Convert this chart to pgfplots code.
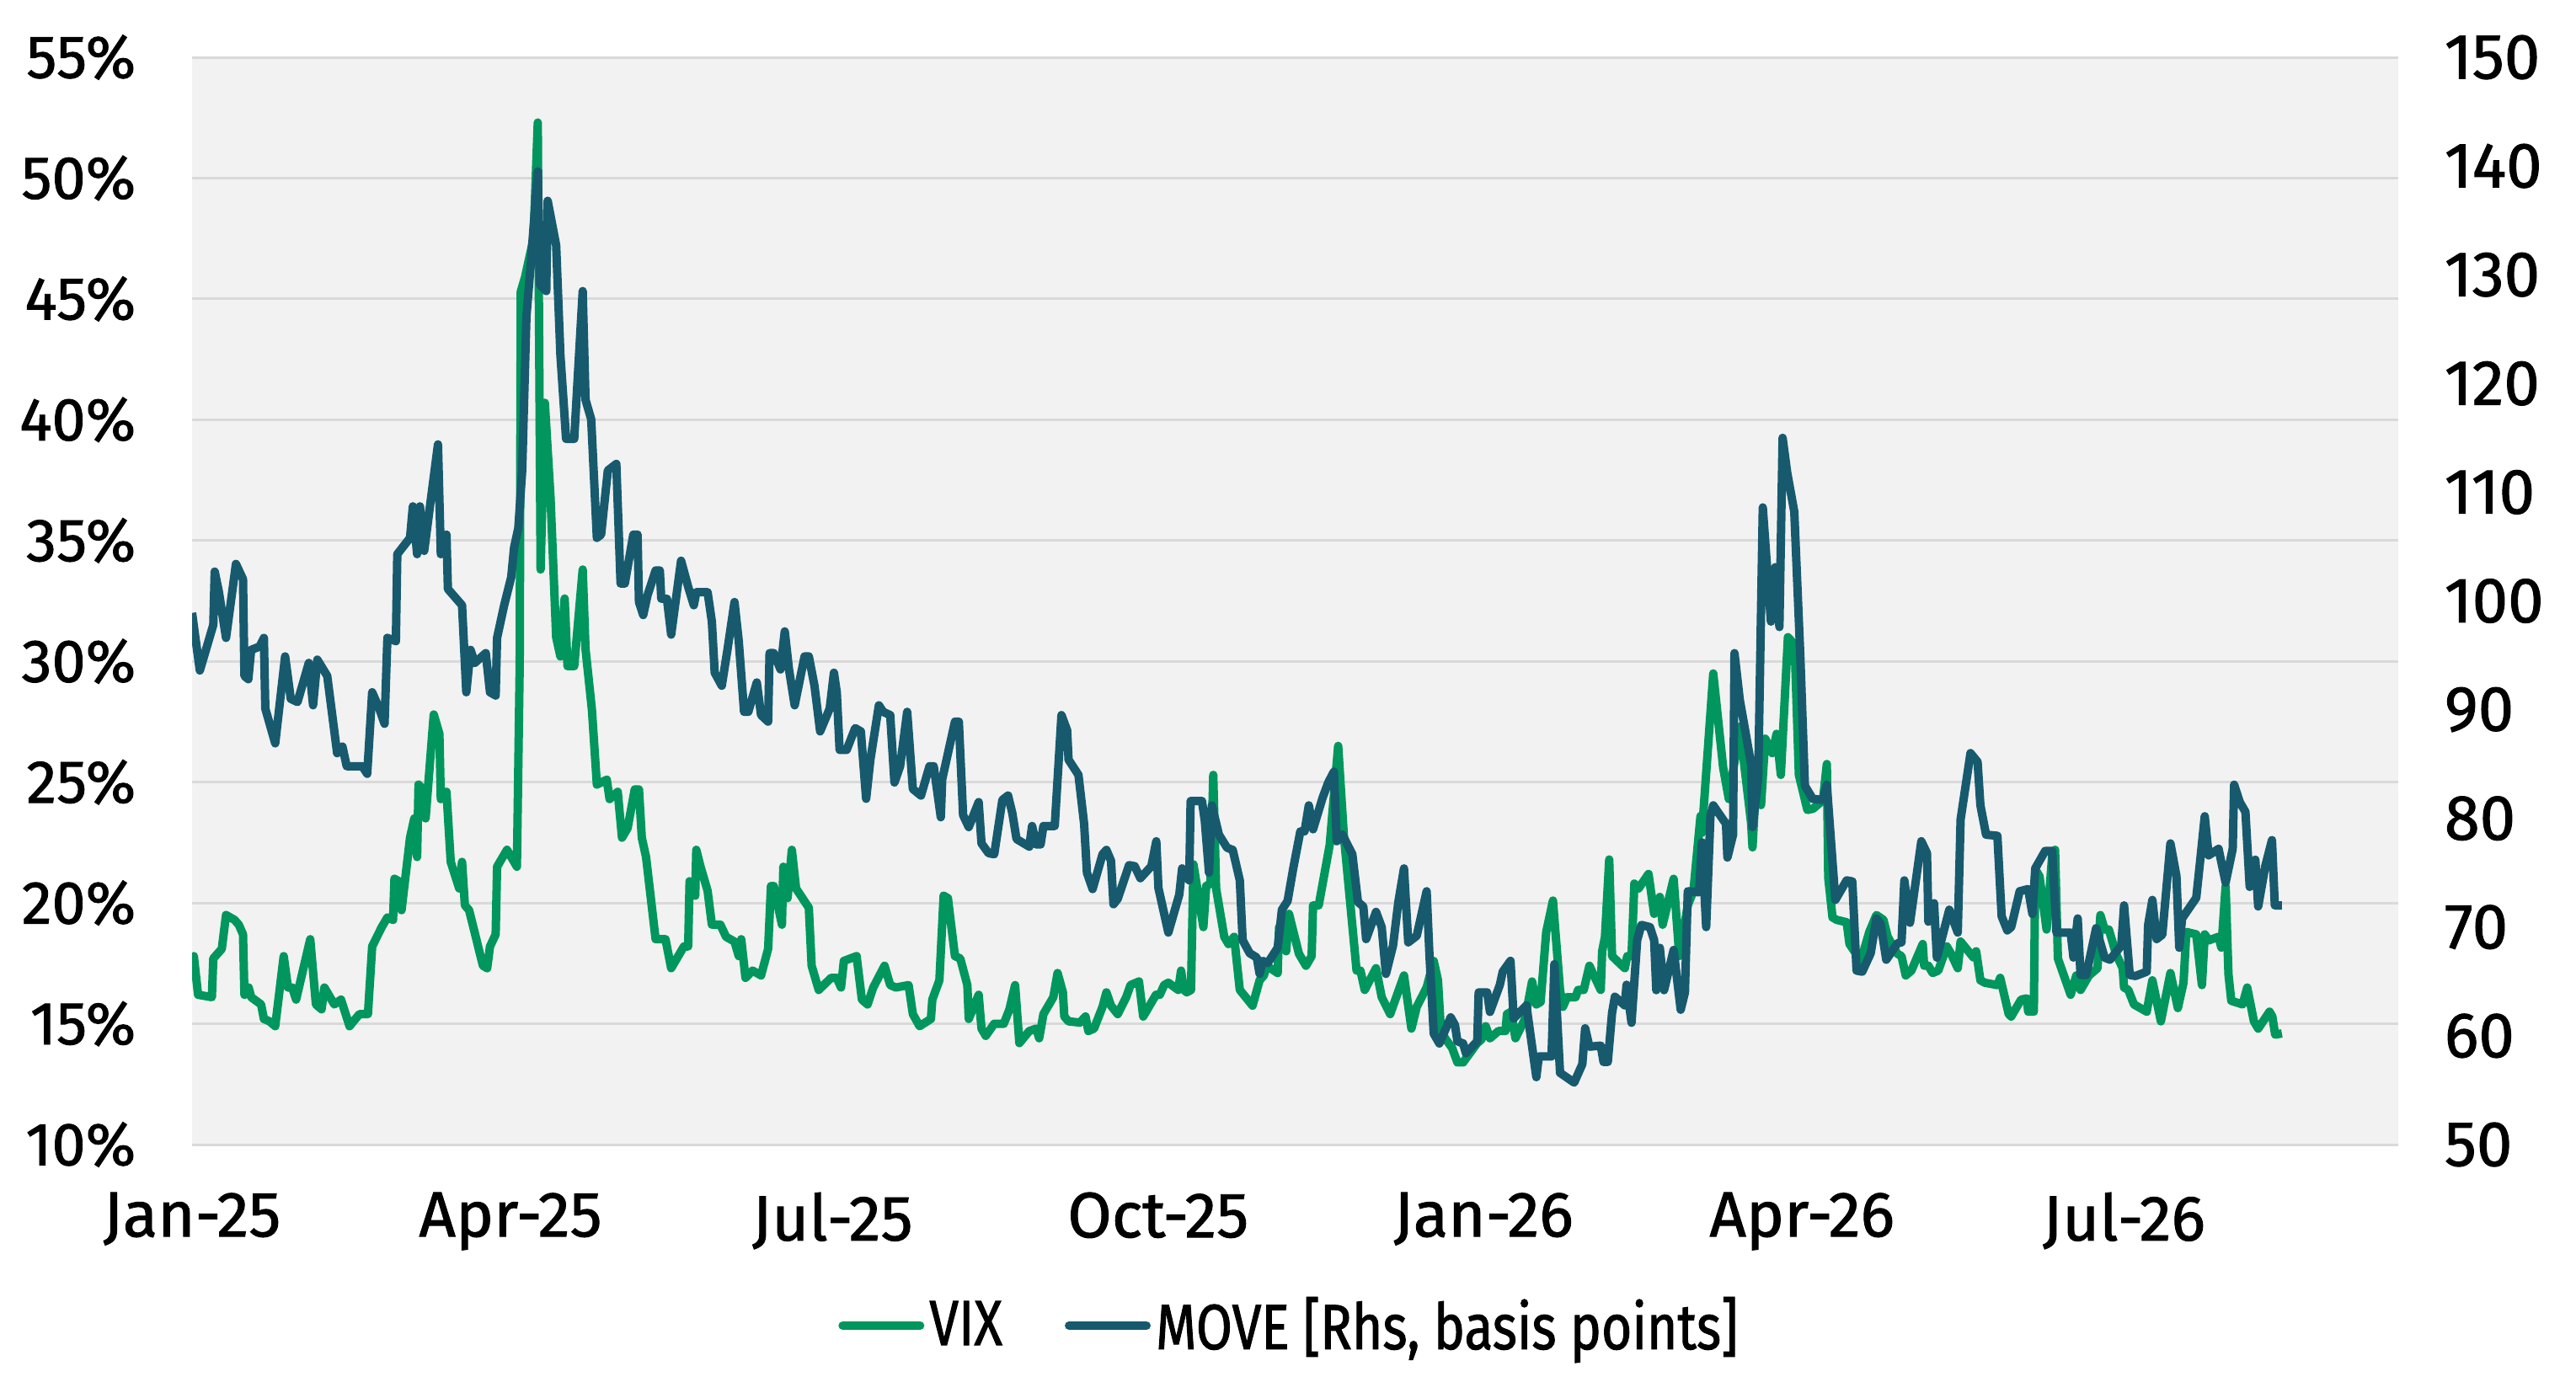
\documentclass[border=0pt]{standalone}
\usepackage{fontspec}
\setmainfont{Fira Sans}[FakeBold=1.2]
\newfontfamily\legfont{Fira Sans}[FakeStretch=0.82, FakeBold=1.2]
\newfontfamily\tickfont{Fira Sans}[FakeBold=1.2]
\usepackage{pgfplots}
\usepackage{pgfplotstable}
\pgfplotsset{compat=1.18}
\definecolor{vixgreen}{HTML}{00965E}
\definecolor{moveblue}{HTML}{175A6E}
\definecolor{plotbg}{HTML}{F2F2F2}
\definecolor{gridc}{HTML}{D9D9D9}

\pgfplotstableread[row sep=\\]{
x y\\
0 17.4\\ 0.5 17.8\\ 1.7 16.2\\ 5.6 16.1\\ 6 17.7\\ 8.4 18.1\\ 9.6 19.5\\ 12 19.3\\ 13.2 19.1\\ 14.4 18.7\\
14.8 16.2\\ 16 16.5\\ 16.7 16.1\\ 19.5 15.8\\ 20.3 15.2\\ 21.9 15.1\\ 23.5 14.9\\ 25.9 17.8\\ 27.1 16.5\\ 28.3 16.5\\
29.4 16.0\\ 33.4 18.5\\ 35 15.8\\ 36.6 15.6\\ 37.4 16.5\\ 40.2 15.8\\ 42.1 16.0\\ 44.5 14.9\\ 47.3 15.4\\ 49.7 15.4\\
50.9 18.2\\ 53.6 19.0\\ 55.2 19.4\\ 56.8 19.3\\ 57.2 21.0\\ 58.4 20.9\\ 59.2 19.7\\ 61.6 22.7\\ 62.8 23.5\\ 63.6 21.9\\
64 24.9\\ 65.2 24.7\\ 66 23.5\\ 68.3 27.8\\ 69.9 27.0\\ 70.3 24.3\\ 71.9 24.6\\ 73.1 21.7\\ 75.5 20.6\\ 76.3 21.7\\
77.1 19.9\\ 78.3 19.7\\ 82.2 17.4\\ 83.4 17.3\\ 84.2 18.2\\ 85.8 18.7\\ 86.2 21.5\\ 89 22.2\\ 90.2 21.9\\ 91.8 21.5\\
92.6 29.9\\ 92.9 45.3\\ 94.1 45.9\\ 96.5 47.5\\ 97.7 52.3\\ 98.5 33.8\\ 99.7 40.7\\ 101.3 36.8\\ 102.9 31.0\\ 104.1 30.2\\
105.3 32.6\\ 106.1 29.8\\ 108 29.8\\ 110.4 33.8\\ 111.2 30.5\\ 113 28.0\\ 114.4 24.9\\ 117.2 25.1\\ 118 24.3\\ 120.3 24.6\\
121.5 22.7\\ 123.1 23.1\\ 125.1 24.7\\ 126.3 24.7\\ 127.1 22.7\\ 128.3 21.9\\ 131 18.5\\ 133.8 18.5\\ 135.4 17.3\\ 139 18.2\\
140.2 18.2\\ 140.6 20.9\\ 142.2 20.3\\ 142.5 22.2\\ 143.7 21.5\\ 145.7 20.5\\ 146.9 19.1\\ 149.3 19.1\\ 150.9 18.6\\ 153.3 18.4\\
154.5 17.8\\ 155.2 18.5\\ 156.4 16.9\\ 158.4 17.2\\ 160.8 17.0\\ 162.8 18.1\\ 163.6 20.7\\ 164.4 20.7\\ 166.7 19.1\\ 167.1 21.5\\
168.3 20.2\\ 169.5 22.2\\ 170.7 20.6\\ 174.3 19.8\\ 175.1 17.4\\ 177.1 16.4\\ 180.6 16.9\\ 182.2 16.9\\ 183.4 16.5\\ 184.2 17.6\\
187.8 17.8\\ 189.3 16.0\\ 190.9 15.8\\ 192.5 16.5\\ 195.7 17.4\\ 197.3 16.6\\ 198.9 16.5\\ 202.5 16.6\\ 203.7 15.4\\ 205.6 14.9\\
208.8 15.2\\ 209.2 16.0\\ 211.2 16.8\\ 212.4 20.3\\ 213.6 20.2\\ 215.6 17.8\\ 217.1 17.7\\ 219.1 16.6\\ 219.5 15.2\\ 222.3 16.2\\
223.1 14.8\\ 224.3 14.5\\ 226.7 15.0\\ 229.4 15.0\\ 231 15.6\\ 232.6 16.6\\ 233.8 14.2\\ 236.6 14.7\\ 238.6 14.8\\ 239.4 14.4\\
240.6 15.4\\ 243.4 16.1\\ 244.6 17.1\\ 246.1 16.3\\ 246.5 15.3\\ 247.7 15.1\\ 250.9 15.05\\ 252.5 15.3\\ 253.3 14.7\\ 254.9 14.8\\
257.3 15.7\\ 258.4 16.3\\ 259.7 15.75\\ 261.6 15.4\\ 264 16.1\\ 265.2 16.6\\ 266.8 16.7\\ 267.6 16.75\\ 268.8 15.3\\ 272.4 16.2\\
273.5 16.2\\ 274.7 16.6\\ 275.9 16.7\\ 278.7 16.4\\ 279.5 17.2\\ 280.3 16.4\\ 281.1 16.3\\ 282.3 16.4\\ 283 21.6\\ 285.8 19.0\\
286.6 20.7\\ 287.8 20.8\\ 288.6 25.3\\ 289.4 20.6\\ 291.7 18.6\\ 292.9 18.3\\ 294.5 18.6\\ 296.1 16.4\\ 299.7 15.75\\ 301.7 16.8\\
302.9 17.0\\ 303.7 17.4\\ 306.8 17.1\\ 307.2 19.0\\ 309.2 18.0\\ 310 19.55\\ 312.8 17.9\\ 314.8 17.4\\ 316.4 17.8\\ 316.8 19.9\\
318.4 19.9\\ 321.5 22.4\\ 323.9 26.5\\ 325.5 22.8\\ 329.1 17.2\\ 330.2 17.2\\ 331.4 16.4\\ 334.6 17.3\\ 336.2 16.1\\ 338.6 15.4\\
342.5 17.0\\ 344.6 14.8\\ 346.1 15.7\\ 348.9 16.5\\ 350.9 17.6\\ 352.1 16.8\\ 352.9 14.8\\ 354.1 14.4\\ 356.1 14.0\\ 357.6 13.4\\
359.2 13.4\\ 363.2 14.2\\ 364.4 14.35\\ 365.6 14.9\\ 366.8 14.4\\ 369.2 14.7\\ 371.2 14.7\\ 371.6 15.4\\ 372.8 15.5\\ 374 14.4\\
376.7 15.2\\ 378.7 16.75\\ 379.9 15.8\\ 381.1 15.9\\ 382.7 18.8\\ 384.6 20.1\\ 386.6 16.4\\ 387.4 15.7\\ 388.6 16.1\\ 391 16.1\\
391.7 16.4\\ 393.3 16.4\\ 394.9 17.4\\ 398.1 16.4\\ 398.5 18.0\\ 399.3 18.6\\ 400.5 21.8\\ 401.3 17.8\\ 404.9 17.3\\ 405.6 17.8\\
406.8 17.8\\ 407.6 20.8\\ 408.8 20.6\\ 411.6 21.2\\ 413.2 19.55\\ 414.8 20.25\\ 415.6 19.1\\ 418.7 21.0\\ 420.3 17.8\\ 422.7 19.9\\
424.3 20.5\\ 426.3 23.6\\ 426.7 22.9\\ 429.9 29.5\\ 432.7 25.6\\ 434.3 24.3\\ 437.4 27.3\\ 440.6 23.3\\ 441.0 22.3\\ 442.2 25.6\\
443.4 24.05\\ 444.6 26.8\\ 446.6 26.2\\ 447.8 27.0\\ 449.0 25.3\\ 451.0 31.0\\ 452.9 30.7\\ 454.1 25.3\\ 456.5 23.85\\ 458.1 23.9\\
460.9 24.25\\ 462 25.75\\ 462.4 21.05\\ 463.6 19.4\\ 464.8 19.3\\ 467.6 19.2\\ 468.4 18.3\\ 471.6 17.6\\ 474 18.8\\ 476 19.5\\
478 19.3\\ 479.2 18.6\\ 481.9 17.9\\ 483.1 17.8\\ 484.3 17.0\\ 485.9 17.2\\ 489.1 18.3\\ 489.5 17.4\\ 490.7 17.4\\ 491.9 17.1\\
493.5 17.2\\ 495.9 18.2\\ 497.1 17.9\\ 499 17.3\\ 499.8 18.4\\ 503.4 17.75\\ 504.2 18.0\\ 505.4 16.8\\ 506.6 16.7\\ 510.2 16.6\\
511 16.9\\ 513.4 15.4\\ 514.1 15.3\\ 516.9 16.0\\ 518.5 16.05\\ 518.9 15.5\\ 520.5 15.5\\ 520.9 21.4\\ 522.1 21.1\\ 524.1 18.9\\
525.7 22.0\\ 526.5 22.2\\ 527.3 17.7\\ 530.9 16.2\\ 532.5 17.0\\ 533.7 16.4\\ 536.1 17.0\\ 538.5 17.3\\ 539.3 19.5\\ 540.5 18.9\\
541.7 18.9\\ 543.7 17.9\\ 545.6 17.3\\ 546 16.5\\ 547.2 16.4\\ 548.8 15.8\\ 552.4 15.5\\ 554 16.8\\ 556.4 15.1\\ 559.1 17.1\\
561.2 15.65\\ 562.8 16.7\\ 563.6 18.8\\ 566.4 18.7\\ 568 16.6\\ 568.8 18.7\\ 569.9 18.45\\ 572.7 18.6\\ 573.5 18.15\\ 574.7 20.7\\
575.5 17.05\\ 576.3 15.95\\ 579.5 15.8\\ 580.8 16.5\\ 582.7 15.1\\ 583.9 14.8\\ 587.1 15.5\\ 587.9 15.3\\ 588.7 14.55\\ 590.6 14.6\\
}\vixdata

\pgfplotstableread[row sep=\\]{
x y\\
0 98.9\\ 2.2 93.6\\ 6.0 97.8\\ 6.4 102.7\\ 7.6 100.8\\ 9.6 96.6\\ 12.4 103.4\\ 14.4 102.0\\ 14.8 93.1\\ 15.9 92.8\\
16.7 95.5\\ 19.1 95.8\\ 20.3 96.6\\ 20.7 90.1\\ 23.5 86.9\\ 26.3 94.9\\ 27.9 91.0\\ 29.8 90.7\\ 33.0 94.3\\ 34.2 90.4\\
35.4 94.6\\ 38.2 93.1\\ 41.0 86.0\\ 42.5 86.6\\ 43.7 84.8\\ 48.1 84.8\\ 49.5 84.1\\ 50.9 91.6\\ 52.9 90.1\\ 54.4 88.7\\
55.2 96.6\\ 57.6 96.3\\ 58.0 104.3\\ 61.6 105.8\\ 62.4 108.7\\ 63.6 104.3\\ 64.4 108.7\\ 65.6 104.6\\ 69.5 114.4\\ 70.3 104.3\\
71.9 106.1\\ 72.3 101.1\\ 76.3 99.6\\ 77.5 91.6\\ 78.7 95.5\\ 79.9 94.3\\ 83.0 95.2\\ 84.2 91.6\\ 85.8 91.3\\ 86.2 96.6\\
88.2 99.6\\ 90.2 102.2\\ 91.0 104.9\\ 92.2 106.7\\ 93.3 112.0\\ 94.5 126.2\\ 95.7 130.9\\ 97.7 139.5\\ 98.3 129.1\\ 100.1 128.5\\
100.5 136.8\\ 102.9 132.7\\ 104.1 122.6\\ 105.7 114.9\\ 108.0 114.9\\ 110.4 128.5\\ 111.2 118.5\\ 112.8 116.7\\ 114.4 105.8\\ 115.6 106.1\\
117.5 112.0\\ 119.9 112.6\\ 121.1 101.6\\ 122.3 101.6\\ 124.7 106.1\\ 125.9 106.1\\ 126.3 99.9\\ 127.5 98.7\\ 128.7 100.5\\ 131.0 102.8\\
132.2 102.8\\ 132.6 100.2\\ 134.2 100.2\\ 135.4 96.9\\ 138.2 103.7\\ 140.2 101.3\\ 141.8 99.6\\ 142.5 100.8\\ 145.7 100.8\\ 146.9 98.1\\
147.7 93.4\\ 149.7 92.2\\ 151.3 95.5\\ 153.3 99.9\\ 154.5 96.3\\ 156.0 89.8\\ 157.2 89.8\\ 159.6 92.5\\ 160.8 89.5\\ 162.8 88.9\\
163.2 95.2\\ 164.4 95.2\\ 166.3 93.7\\ 167.5 97.2\\ 168.7 93.7\\ 170.3 90.4\\ 173.1 94.9\\ 174.3 94.9\\ 175.9 92.2\\ 177.5 88.0\\
180.2 90.1\\ 181.4 93.4\\ 182.2 91.6\\ 183.0 86.3\\ 185.0 86.3\\ 187.4 88.3\\ 189.0 88.0\\ 190.5 81.8\\ 191.7 85.4\\ 194.1 90.4\\
195.3 89.8\\ 197.3 89.5\\ 198.5 83.3\\ 200.1 84.8\\ 202.1 89.8\\ 203.7 82.7\\ 206.0 82.1\\ 208.4 84.8\\ 209.6 84.8\\ 211.6 80.1\\
212.0 83.6\\ 215.6 88.9\\ 216.7 88.9\\ 217.9 80.3\\ 219.5 79.2\\ 222.3 81.5\\ 223.1 77.7\\ 225.1 76.8\\ 226.7 76.7\\ 229.0 81.7\\
230.6 82.1\\ 231.8 80.5\\ 233.0 78.1\\ 236.6 77.4\\ 237.4 79.3\\ 238.6 77.6\\ 239.8 77.6\\ 240.6 79.3\\ 243.8 79.3\\ 245.7 89.5\\
247.3 88.1\\ 247.7 85.4\\ 250.5 84.0\\ 252.1 79.5\\ 252.9 75.0\\ 254.5 73.5\\ 257.3 76.7\\ 258.4 77.1\\ 259.7 76.1\\ 260.4 72.1\\
261.6 72.6\\ 264.8 75.7\\ 266.4 75.6\\ 268.0 74.5\\ 271.1 75.6\\ 272.5 77.9\\ 273.1 73.6\\ 275.9 69.5\\ 279.0 73.0\\ 279.8 75.4\\
281.8 74.3\\ 282.2 81.6\\ 285.4 81.6\\ 286.2 79.8\\ 287.4 75.0\\ 288.2 81.2\\ 290.2 78.5\\ 292.5 77.3\\ 294.1 77.1\\ 296.1 74.3\\
296.9 68.8\\ 298.9 67.6\\ 300.9 67.2\\ 301.7 65.7\\ 302.5 66.9\\ 304.0 66.7\\ 306.8 68.1\\ 308.0 71.6\\ 309.6 72.4\\ 311.2 75.4\\
313.2 78.8\\ 314.4 78.8\\ 315.6 81.2\\ 316.8 79.0\\ 319.5 81.9\\ 321.1 83.3\\ 322.7 84.3\\ 323.5 77.9\\ 325.1 78.5\\ 327.9 76.7\\
329.5 72.3\\ 331.0 71.9\\ 331.8 68.9\\ 334.6 71.4\\ 336.2 70.0\\ 337.4 65.7\\ 339.4 68.3\\ 340.9 72.3\\ 342.5 75.4\\ 343.7 68.6\\
346.1 69.2\\ 348.9 73.3\\ 349.7 67.4\\ 350.9 60.2\\ 352.5 59.3\\ 355.7 61.7\\ 356.9 61.0\\ 357.6 59.5\\ 359.2 59.3\\ 360.0 58.4\\
363.2 59.5\\ 363.6 64.0\\ 366.0 64.0\\ 366.8 62.2\\ 369.6 64.7\\ 370.4 65.9\\ 372.6 66.9\\ 373.5 61.6\\ 377.1 62.8\\ 379.9 56.2\\
380.6 58.1\\ 384.2 58.1\\ 385.0 66.6\\ 386.6 56.6\\ 390.6 55.7\\ 392.9 57.4\\ 393.7 60.7\\ 394.9 59.0\\ 398.1 59.1\\ 398.9 57.6\\
400.1 57.6\\ 401.3 62.1\\ 402.1 63.6\\ 404.9 62.8\\ 405.4 64.7\\ 406.8 61.2\\ 408.4 68.8\\ 409.6 70.2\\ 412.0 70.0\\ 413.2 68.8\\
413.8 64.2\\ 414.8 68.1\\ 416.0 64.2\\ 418.7 67.9\\ 420.7 62.4\\ 421.9 64.0\\ 422.7 73.3\\ 425.9 73.2\\ 426.7 77.8\\ 427.9 70.0\\
429.1 80.2\\ 429.9 81.2\\ 433.5 79.5\\ 433.9 76.4\\ 435.5 78.5\\ 435.9 95.2\\ 437.4 90.9\\ 440.6 85.0\\ 441.0 79.2\\ 442.6 83.6\\
443.9 108.6\\ 446.2 98.1\\ 447.4 103.1\\ 448.6 97.6\\ 449.5 115.0\\ 450.8 111.8\\ 452.8 108.2\\ 454.5 95.0\\ 455.8 83.0\\ 458.0 81.8\\
460.9 81.7\\ 462.0 83.1\\ 464.4 72.5\\ 467.6 74.3\\ 469.2 74.2\\ 470.4 66.0\\ 472.0 65.9\\ 474.4 67.6\\ 476.0 70.8\\ 477.2 70.3\\
478.8 67.0\\ 481.9 68.5\\ 483.1 68.6\\ 483.9 74.3\\ 485.5 70.4\\ 488.7 77.9\\ 490.3 76.8\\ 490.7 70.5\\ 492.3 72.2\\ 493.1 67.2\\
496.6 71.6\\ 499.0 69.5\\ 499.8 79.9\\ 502.6 86.0\\ 504.6 85.2\\ 505.4 81.2\\ 507.0 78.5\\ 510.2 78.4\\ 511.4 71.0\\ 513.0 69.7\\
514.1 70.0\\ 516.5 73.3\\ 518.9 73.5\\ 520.1 71.2\\ 520.9 75.4\\ 523.7 77.0\\ 525.7 77.0\\ 526.9 69.5\\ 530.9 69.5\\ 531.7 67.2\\
532.9 70.8\\ 533.7 65.6\\ 535.3 65.6\\ 538.1 69.9\\ 540.5 67.2\\ 542.0 67.0\\ 545.2 68.3\\ 546.0 72.0\\ 547.6 65.6\\ 549.2 65.5\\
552.4 65.9\\ 552.8 70.2\\ 554.0 72.5\\ 555.2 68.9\\ 556.8 69.3\\ 559.1 77.7\\ 560.8 74.7\\ 561.6 68.1\\ 562.4 70.8\\ 566.4 72.7\\
567.6 76.4\\ 568.8 80.2\\ 569.9 76.6\\ 572.7 77.2\\ 574.7 74.1\\ 576.7 77.2\\ 577.1 83.1\\ 578.7 81.5\\ 580.3 80.6\\ 581.5 73.7\\
583.1 76.2\\ 583.9 71.9\\ 585.9 75.6\\ 587.8 78.0\\ 588.6 72.0\\ 590.6 72.0\\
}\movedata

\begin{document}
\begin{tikzpicture}
\pgfplotsset{
  every axis/.append style={
    scale only axis, width=654.75pt, height=322.75pt,
    xmin=0, xmax=623.5,
    axis line style={draw=none},
    major tick length=0pt,
    tick label style={font=\tickfont\fontsize{19}{22}\selectfont},
    /pgf/number format/assume math mode=true,
  }
}
\begin{axis}[
  ymin=10, ymax=55,
  axis background/.style={fill=plotbg},
  ymajorgrids, major grid style={draw=gridc, line width=0.75pt},
  ytick={10,15,...,55},
  yticklabels={10\%,15\%,20\%,25\%,30\%,35\%,40\%,45\%,50\%,55\%},
  yticklabel style={inner sep=0pt, anchor=east, xshift=-16.5pt, font=\tickfont\fontsize{18}{21}\selectfont},
  xtick={0,90,181,273,365,455,546},
  xticklabels={Jan-25,Apr-25,Jul-25,Oct-25,Jan-26,Apr-26,Jul-26},
  xticklabel style={inner sep=0pt, anchor=north, yshift=-14pt},
]
\addplot[vixgreen, line width=2.5pt, line join=round] table {\vixdata};
\end{axis}
\begin{axis}[
  ymin=50, ymax=150,
  axis y line*=right, axis x line=none, xtick=\empty,
  ytick={50,60,...,150},
  yticklabel style={inner sep=0pt, anchor=west, xshift=13.5pt},
  legend columns=2,
  legend style={at={(0.498,-0.1665)}, anchor=center, draw=none, fill=none,
    font=\legfont\fontsize{19}{22}\selectfont, inner sep=0pt,
    nodes={inner sep=1.5pt},
    /tikz/every even column/.append style={column sep=17pt}},
  legend image code/.code={\draw[#1, line cap=round] (0pt,0pt) -- (23pt,0pt);},
]
\addlegendimage{vixgreen, line width=2.5pt}
\addlegendentry{VIX}
\addplot[moveblue, line width=2.5pt, line join=round] table {\movedata};
\addlegendentry{MOVE [Rhs, basis points]}
\end{axis}
\pgfresetboundingbox
\path[use as bounding box] (-57pt,-73.5pt) rectangle (707.5pt,339.75pt);
\end{tikzpicture}
\end{document}
